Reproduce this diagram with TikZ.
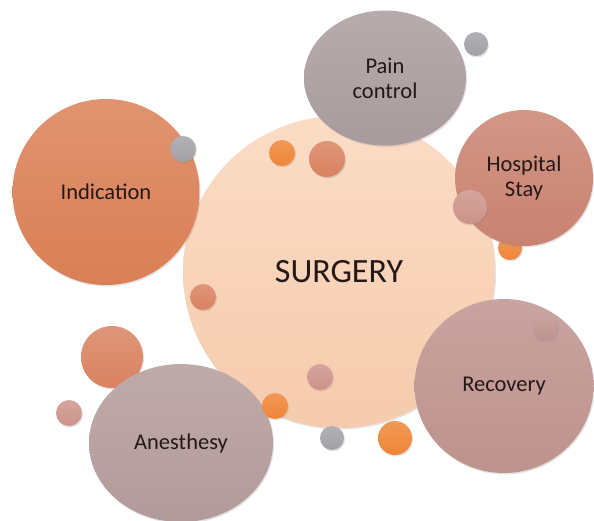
\documentclass[tikz,border=0pt]{standalone}
\usepackage{fontspec}
\setmainfont{Carlito}
\usepackage{tikz}
\usetikzlibrary{shapes.geometric,shadows}

% Цвета
\definecolor{peachtop}{HTML}{FADCC5}
\definecolor{peachbot}{HTML}{F6CBAD}
\definecolor{indorange}{HTML}{DA7F55}
\definecolor{paingrey}{HTML}{A99B9D}
\definecolor{hospbrown}{HTML}{C98270}
\definecolor{recmauve}{HTML}{BE928D}
\definecolor{anesmauve}{HTML}{B39A9A}
\definecolor{dotgrey}{HTML}{A3A1A6}
\definecolor{dotorange}{HTML}{EE8537}
\definecolor{dotclay}{HTML}{D98260}
\definecolor{dotrose}{HTML}{CC938A}
\definecolor{labeltext}{HTML}{241818}

\tikzset{
  ball/.style={top color=#1!84!white, bottom color=#1,
    drop shadow={shadow xshift=1pt, shadow yshift=-1.5pt, opacity=0.22}},
  bubble/.style={ellipse, ball=#1, inner sep=0pt, text=labeltext,
    font=\fontsize{22.5}{25}\selectfont, align=center},
}

\begin{document}
\begin{tikzpicture}[x=1pt, y=-1pt]

    \useasboundingbox (0,0) rectangle (594,521);
    \clip (0,0) rectangle (594,521);

    % Центральный круг
    \node[circle, minimum size=312pt, inner sep=0pt,
          top color=peachtop, bottom color=peachbot,
          drop shadow={shadow xshift=1pt, shadow yshift=-1.5pt, opacity=0.22},
          text=labeltext, font=\fontsize{34}{40}\selectfont]
        (surgery) at (339,272) {SURGERY};

    % Шарик за кругом Hospital
    \path[ball=dotorange] (510,248) circle (12pt);
    % Шарик за кругом Anesthesy
    \path[ball=dotclay] (112,357) circle (31pt);

    % Большие круги вокруг
    \node[bubble=indorange, minimum width=187pt, minimum height=186pt]
        (indication) at (106,192) {Indication};
    \node[bubble=paingrey, minimum width=162pt, minimum height=135pt]
        (pain) at (385,78) {Pain\\control};
    \node[bubble=hospbrown, minimum width=138pt, minimum height=136pt]
        (hospital) at (524,178) {Hospital\\Stay};
    \node[bubble=recmauve, minimum width=179pt, minimum height=174pt]
        (recovery) at (504,386) {Recovery};
    \node[bubble=anesmauve, minimum width=184pt, minimum height=158pt]
        (anesthesy) at (181,443) {Anesthesy};

    % Мелкие шарики
    \path[ball=dotgrey]   (476,44)  circle (12pt);
    \path[ball=dotgrey]   (183,149) circle (13pt);
    \path[ball=dotorange] (282,153) circle (13pt);
    \path[ball=dotclay]   (327,159) circle (18pt);
    \path[ball=dotrose]   (470,207) circle (17pt);
    \path[ball=dotclay]   (203,297) circle (13pt);
    \path[ball=recmauve]  (545,328) circle (13pt);
    \path[ball=dotrose]   (69,413)  circle (13pt);
    \path[ball=dotrose]   (320,377) circle (13pt);
    \path[ball=dotorange] (275,406) circle (13pt);
    \path[ball=dotgrey]   (332,438) circle (12pt);
    \path[ball=dotorange] (395,438) circle (17pt);

\end{tikzpicture}
\end{document}
